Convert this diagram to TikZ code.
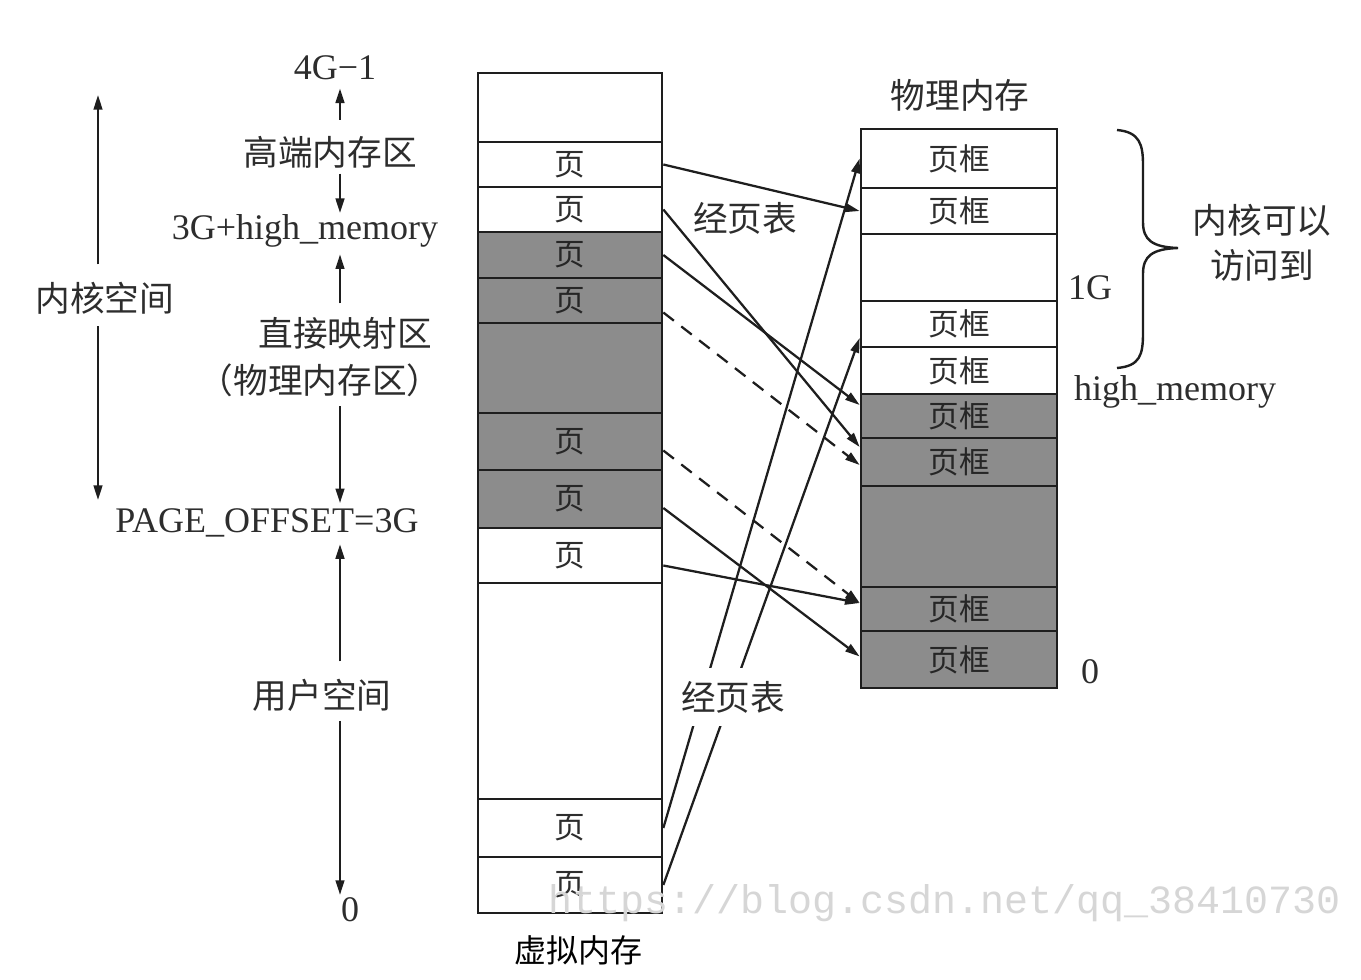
\documentclass[tikz,border=0pt]{standalone}
\usepackage{fontspec}
\setmainfont{Liberation Serif}
\newfontfamily\cjk{Noto Sans CJK SC}
\newfontfamily\wmfont{Liberation Mono}
\usetikzlibrary{arrows.meta,calc}
\definecolor{boxgray}{RGB}{140,140,140}
\definecolor{ink}{RGB}{30,30,30}
\definecolor{txt}{RGB}{45,45,45}
\newcommand\memrow[7]{\node[#6, minimum width={(#3-#2)*0.75pt}, minimum height={(#5-#4)*0.75pt}] (#1) at ({(#2+#3)/2},{(#4+#5)/2}) {#7};}
\begin{document}
\begin{tikzpicture}[x=0.75pt,y=-0.75pt,
  wrow/.style={draw=ink, line width=2pt, inner sep=0pt, fill=white, text=txt, font=\cjk\fontsize{23}{23}\selectfont},
  grayrow/.style={wrow, fill=boxgray, text=black!85},
  conn/.style={draw=ink, line width=1.7pt, -{Triangle[length=11pt,width=6.5pt]}},
  dconn/.style={conn, dash pattern=on 10pt off 7pt},
  larr/.style={draw=ink, line width=1.8pt, -{Triangle[length=11pt,width=6.5pt]}},
  lbl/.style={text=txt, inner sep=0pt, font=\fontsize{27}{27}\selectfont},
  clbl/.style={text=txt, inner sep=0pt, font=\cjk\fontsize{26}{26}\selectfont}]
\useasboundingbox (0,0) rectangle (1361,979);
\fill[white] (0,0) rectangle (1361,979);
% virtual memory column
\memrow{v0}{478}{662}{73}{142}{wrow}{}
\memrow{v1}{478}{662}{142}{187}{wrow}{页}
\memrow{v2}{478}{662}{187}{232}{wrow}{页}
\memrow{v3}{478}{662}{232}{278}{grayrow}{页}
\memrow{v4}{478}{662}{278}{323}{grayrow}{页}
\memrow{v5}{478}{662}{323}{413}{grayrow}{}
\memrow{v6}{478}{662}{413}{470}{grayrow}{页}
\memrow{v7}{478}{662}{470}{528}{grayrow}{页}
\memrow{v8}{478}{662}{528}{583}{wrow}{页}
\memrow{v9}{478}{662}{583}{799}{wrow}{}
\memrow{v10}{478}{662}{799}{857}{wrow}{页}
\memrow{v11}{478}{662}{857}{913}{wrow}{页}
% physical memory column
\memrow{p1}{861}{1057}{129}{188}{wrow}{页框}
\memrow{p2}{861}{1057}{188}{234}{wrow}{页框}
\memrow{p3}{861}{1057}{234}{301}{wrow}{}
\memrow{p4}{861}{1057}{301}{347}{wrow}{页框}
\memrow{p5}{861}{1057}{347}{394}{wrow}{页框}
\memrow{p6}{861}{1057}{394}{438}{grayrow}{页框}
\memrow{p7}{861}{1057}{438}{486}{grayrow}{页框}
\memrow{p8}{861}{1057}{486}{587}{grayrow}{}
\memrow{p9}{861}{1057}{587}{631}{grayrow}{页框}
\memrow{p10}{861}{1057}{631}{688}{grayrow}{页框}
% titles
\node[clbl] (ptitle) at (960,95) {物理内存};
\node[text=black, inner sep=0pt, font=\cjk\fontsize{24}{24}\selectfont] (vtitle) at (578,950) {虚拟内存};
% mapping connectors
\draw[conn] (v1.east) -- (p2.west);
\draw[conn] (v2.east) -- ($(p7.west)+(0,-15)$);
\draw[conn] (v3.east) -- ($(p6.west)+(0,-11)$);
\draw[dconn] ($(v4.east)+(0,12)$) -- ($(p7.west)+(0,3)$);
\draw[dconn] ($(v6.east)+(0,9)$) -- ($(p9.west)+(0,-6)$);
\draw[conn] ($(v8.east)+(0,10)$) -- ($(p9.west)+(0,-6)$);
\draw[conn] ($(v7.east)+(0,9)$) -- ($(p10.west)+(0,-3)$);
\draw[conn] (v10.east) -- (p1.west);
\draw[conn] (v11.east) -- ($(p4.west)+(0,14)$);
\node[clbl] (pt1) at (745,218) {经页表};
\node[clbl, fill=white, inner xsep=2pt, inner ysep=10pt] (pt2) at (733,697) {经页表};
% right side labels
\node[lbl] (oneg) at (1090,288) {1G};
\node[lbl] (hm) at (1175,392) {high\_memory};
\node[lbl] (pz) at (1090,672) {0};
\node[clbl] (kv1) at (1262,220) {内核可以};
\node[clbl] (kv2) at (1262,265) {访问到};
\draw[draw=ink, line width=1.8pt] (1117,130) .. controls (1140,132) and (1143,145) .. (1143,165)
  -- (1143,222) .. controls (1143,240) and (1152,247) .. (1178,248)
  .. controls (1152,249) and (1143,256) .. (1143,274)
  -- (1143,333) .. controls (1143,355) and (1140,366) .. (1117,368);
% left side labels
\node[lbl] (g4) at (335,68) {4G−1};
\node[clbl] (hi) at (330,152) {高端内存区};
\node[lbl] (g3h) at (305,231) {3G+high\_memory};
\node[clbl] (dm) at (345,333) {直接映射区};
\node[clbl] (pm) at (320,380) {（物理内存区）};
\node[lbl] (po) at (267,523) {PAGE\_OFFSET=3G};
\node[clbl] (us) at (322,695) {用户空间};
\node[lbl] (z0) at (350,910) {0};
\node[clbl] (ks) at (105,298) {内核空间};
\coordinate (ax) at (340,0);
\coordinate (kx) at (98,0);
\coordinate (kt) at (98,95);
\coordinate (kb) at (98,500);
\draw[larr, shorten <=12pt, shorten >=6pt] (ax |- hi.north) -- (ax |- g4.south);
\draw[larr, shorten <=4pt, shorten >=1pt] (ax |- hi.south) -- (ax |- g3h.north);
\draw[larr, shorten <=10pt, shorten >=5pt] (ax |- dm.north) -- (ax |- g3h.south);
\draw[larr, shorten <=7pt, shorten >=4pt] (ax |- pm.south) -- (ax |- po.north);
\draw[larr, shorten <=13pt, shorten >=5pt] (ax |- us.north) -- (ax |- po.south);
\draw[larr, shorten <=7pt, shorten >=2pt] (ax |- us.south) -- (ax |- z0.north);
\draw[larr, shorten <=13pt] (kx |- ks.north) -- (kt);
\draw[larr, shorten <=9pt] (kx |- ks.south) -- (kb);
% watermark
\node[text=black!16, inner sep=0pt, font=\wmfont\fontsize{30}{30}\selectfont] (wm) at (945,903) {https://blog.csdn.net/qq\_38410730};
\end{tikzpicture}
\end{document}
